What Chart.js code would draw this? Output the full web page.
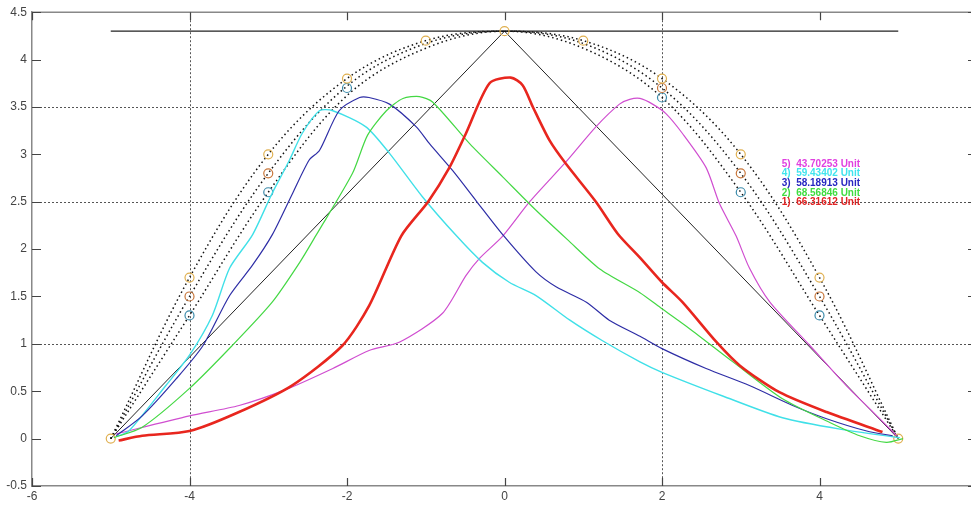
<!DOCTYPE html>
<html>
<head>
<meta charset="utf-8">
<script src="https://cdn.jsdelivr.net/npm/chart.js@4.4.0/dist/chart.umd.min.js"></script>
<style>
html, body { margin: 0; padding: 0; background: #fff; overflow: hidden; }
#wrap { width: 985px; height: 506px; }
</style>
</head>
<body>
<div id="wrap"><canvas id="chart"></canvas></div>
<script>
// axis ticks and the few dotted grid lines
const xTicks = [-6, -4, -2, 0, 2, 4, 6];
const yTicks = [-0.5, 0, 0.5, 1, 1.5, 2, 2.5, 3, 3.5, 4, 4.5];
const xGridLines = [-4, 2];
const yGridLines = [1, 2.5, 3.5];

// reference shapes
const topLineX = [-5, 5];
const topLineY = [4.3, 4.3];
const triangleX = [-5, 0, 5];
const triangleY = [0, 4.3, 0];

const arcX = [-5, -4, -3, -2, -1, 0, 1, 2, 3, 4, 5];
const arcOuterY = [0, 1.7, 3.0, 3.8, 4.2, 4.3, 4.2, 3.8, 3.0, 1.7, 0];
const arcMiddleY = [0, 1.5, 2.8, 3.72, 4.17, 4.3, 4.17, 3.7, 2.8, 1.5, 0];
const arcInnerY = [0, 1.3, 2.6, 3.62, 4.12, 4.3, 4.12, 3.6, 2.6, 1.3, 0];

const orangeMarkX = [-5, -4, -3, -2, -1, 0, 1, 2, 3, 4, 5];
const orangeMarkY = [0, 1.7, 3.0, 3.8, 4.2, 4.3, 4.2, 3.8, 3.0, 1.7, 0];
const brownMarkX = [-4, -3, 2, 3, 4];
const brownMarkY = [1.5, 2.8, 3.7, 2.8, 1.5];
const blueMarkX = [-4, -3, -2, 2, 3, 4];
const blueMarkY = [1.3, 2.6, 3.7, 3.6, 2.6, 1.3];

// measured curves
const redX = [-4.9, -4.6, -4.0, -3.4, -2.7, -2.06, -1.72, -1.31, -0.97, -0.70, -0.49, -0.19, 0.08, 0.23, 0.36, 0.57, 0.78, 1.16, 1.44, 1.72, 2.0, 2.26, 2.69, 2.99, 3.49, 4.09, 4.8];
const redY = [-0.02, 0.03, 0.08, 0.27, 0.56, 0.98, 1.40, 2.14, 2.50, 2.86, 3.22, 3.75, 3.81, 3.73, 3.50, 3.15, 2.90, 2.50, 2.16, 1.91, 1.65, 1.44, 1.02, 0.77, 0.49, 0.28, 0.07];

const greenX = [-4.96, -4.6, -4.0, -3.46, -2.95, -2.6, -2.39, -1.93, -1.74, -1.5, -1.29, -1.08, -0.91, -0.44, -0.02, 0.40, 0.80, 1.21, 1.72, 2.0, 2.35, 2.90, 3.53, 4.13, 4.51, 4.85, 5.06];
const greenY = [0.01, 0.12, 0.53, 0.98, 1.44, 1.86, 2.15, 2.80, 3.20, 3.46, 3.59, 3.61, 3.55, 3.11, 2.76, 2.41, 2.10, 1.79, 1.54, 1.37, 1.16, 0.81, 0.42, 0.17, 0.03, -0.04, 0.0];

const blueX = [-4.93, -4.6, -4.17, -3.83, -3.49, -3.2, -2.95, -2.69, -2.48, -2.35, -2.10, -1.84, -1.72, -1.46, -1.12, -0.95, -0.66, -0.36, -0.02, 0.40, 0.66, 1.04, 1.33, 1.72, 2.0, 2.56, 3.11, 3.66, 4.09, 4.60, 4.93];
const blueY = [0.03, 0.24, 0.63, 0.98, 1.51, 1.83, 2.15, 2.59, 2.94, 3.04, 3.46, 3.60, 3.60, 3.53, 3.29, 3.11, 2.83, 2.51, 2.15, 1.76, 1.60, 1.44, 1.25, 1.08, 0.95, 0.74, 0.56, 0.35, 0.21, 0.08, 0.03];

const cyanX = [-4.93, -4.77, -4.30, -4.0, -3.71, -3.49, -3.2, -2.95, -2.73, -2.57, -2.35, -2.18, -1.76, -1.46, -1.04, -0.61, -0.28, 0.06, 0.40, 0.83, 1.25, 1.72, 2.0, 2.77, 3.53, 4.26, 5.02];
const cyanY = [0.02, 0.08, 0.56, 0.88, 1.30, 1.80, 2.15, 2.59, 2.94, 3.22, 3.46, 3.46, 3.29, 3.01, 2.55, 2.14, 1.86, 1.65, 1.51, 1.25, 1.03, 0.81, 0.70, 0.45, 0.22, 0.10, 0.01];

const magentaX = [-4.93, -4.0, -3.37, -2.77, -2.18, -1.72, -1.33, -0.79, -0.49, -0.32, -0.02, 0.32, 0.78, 1.16, 1.46, 1.59, 1.72, 1.88, 2.05, 2.26, 2.56, 2.73, 2.94, 3.11, 3.37, 3.88, 4.34, 4.68, 4.98];
const magentaY = [0.05, 0.24, 0.35, 0.52, 0.74, 0.93, 1.02, 1.32, 1.72, 1.90, 2.14, 2.50, 2.92, 3.29, 3.53, 3.58, 3.59, 3.53, 3.43, 3.22, 2.86, 2.48, 2.14, 1.80, 1.44, 0.98, 0.56, 0.28, 0.03];

// text block on the right
const noteLabels = ['5)  43.70253 Unit', '4)  59.43402 Unit', '3)  58.18913 Unit', '2)  68.56846 Unit', '1)  66.31612 Unit'];
const noteColors = ['#e040e0', '#40e4ee', '#2626c0', '#40dd40', '#e02424'];
const noteX = 3.52;
const noteY = [2.90, 2.80, 2.69, 2.59, 2.49];

function pts(xs, ys) {
    return xs.map((x, i) => ({ x: x, y: ys[i] }));
}

function curve(label, xs, ys, color, width, tension) {
    return {
        label: label,
        data: pts(xs, ys),
        showLine: true,
        borderColor: color,
        borderWidth: width,
        pointRadius: 0,
        fill: false,
        tension: tension
    };
}

function dotted(label, ys) {
    const ds = curve(label, arcX, ys, '#111', 1.5, 0.35);
    ds.borderDash = [1.5, 3];
    return ds;
}

function marks(label, xs, ys, color) {
    return {
        label: label,
        data: pts(xs, ys),
        showLine: false,
        pointStyle: 'circle',
        pointRadius: 4.5,
        borderColor: color,
        backgroundColor: 'rgba(0,0,0,0)',
        pointBorderWidth: 1.2
    };
}

const framePlugin = {
    id: 'frame',
    beforeDatasetsDraw(chart) {
        const ctx = chart.ctx;
        const a = chart.chartArea;
        const x = chart.scales.x;
        const y = chart.scales.y;
        ctx.save();
        ctx.strokeStyle = '#555';
        ctx.lineWidth = 1;
        ctx.setLineDash([2, 2]);
        xGridLines.forEach(v => {
            const px = Math.round(x.getPixelForValue(v)) + 0.5;
            ctx.beginPath();
            ctx.moveTo(px, a.top);
            ctx.lineTo(px, a.bottom);
            ctx.stroke();
        });
        yGridLines.forEach(v => {
            const py = Math.round(y.getPixelForValue(v)) + 0.5;
            ctx.beginPath();
            ctx.moveTo(a.left, py);
            ctx.lineTo(a.right, py);
            ctx.stroke();
        });
        ctx.restore();
    },
    afterDatasetsDraw(chart) {
        const ctx = chart.ctx;
        const a = chart.chartArea;
        const x = chart.scales.x;
        const y = chart.scales.y;
        ctx.save();
        ctx.strokeStyle = '#888';
        ctx.lineWidth = 1.5;
        ctx.beginPath();
        ctx.moveTo(a.left, a.top);
        ctx.lineTo(a.right, a.top);
        ctx.moveTo(a.right, a.top);
        ctx.lineTo(a.right, a.bottom);
        ctx.stroke();

        // ticks point inward
        ctx.lineWidth = 1.2;
        ctx.strokeStyle = '#444';
        ctx.beginPath();
        xTicks.forEach(v => {
            const px = Math.round(x.getPixelForValue(v)) + 0.5;
            ctx.moveTo(px, a.bottom);
            ctx.lineTo(px, a.bottom - 8);
            ctx.moveTo(px, a.top);
            ctx.lineTo(px, a.top + 8);
        });
        yTicks.forEach(v => {
            const py = Math.round(y.getPixelForValue(v)) + 0.5;
            ctx.moveTo(a.left, py);
            ctx.lineTo(a.left + 9, py);
            ctx.moveTo(a.right, py);
            ctx.lineTo(a.right - 9, py);
        });
        ctx.stroke();

        ctx.font = 'bold 10px "Liberation Sans", Arial, sans-serif';
        ctx.textAlign = 'left';
        ctx.textBaseline = 'middle';
        noteLabels.forEach((t, i) => {
            ctx.fillStyle = noteColors[i];
            ctx.fillText(t, x.getPixelForValue(noteX), y.getPixelForValue(noteY[i]));
        });
        ctx.restore();
    }
};

document.addEventListener('DOMContentLoaded', function() {
    const ctx = document.getElementById('chart').getContext('2d');
    new Chart(ctx, {
        type: 'scatter',
        data: {
            datasets: [
                curve('1', redX, redY, '#e8261e', 2.6, 0.25),
                curve('2', greenX, greenY, '#44d844', 1.2, 0.25),
                curve('3', blueX, blueY, '#2e2ea6', 1.2, 0.25),
                curve('4', cyanX, cyanY, '#40e0e8', 1.4, 0.25),
                curve('5', magentaX, magentaY, '#d04ed0', 1.2, 0.25),
                marks('o1', orangeMarkX, orangeMarkY, '#e0b050'),
                marks('o2', brownMarkX, brownMarkY, '#c8763a'),
                marks('o3', blueMarkX, blueMarkY, '#3a8aaa'),
                dotted('d1', arcOuterY),
                dotted('d2', arcMiddleY),
                dotted('d3', arcInnerY),
                curve('tri', triangleX, triangleY, '#222', 1, 0),
                curve('top', topLineX, topLineY, '#222', 1.2, 0)
            ]
        },
        options: {
            responsive: true,
            maintainAspectRatio: false,
            animation: false,
            layout: { padding: { top: 12, right: 8, left: 0, bottom: 0 } },
            plugins: {
                legend: { display: false },
                tooltip: { enabled: false }
            },
            scales: {
                x: {
                    type: 'linear',
                    min: -6,
                    max: 6,
                    afterFit: function(scale) { scale.height = 20; },
                    afterBuildTicks: function(scale) { scale.ticks = xTicks.map(v => ({ value: v })); },
                    ticks: {
                        color: '#444',
                        padding: 3,
                        maxRotation: 0,
                        callback: v => String(v),
                        font: { family: '"Liberation Sans", Arial, sans-serif', size: 12 }
                    },
                    grid: { drawOnChartArea: false, drawTicks: false },
                    border: { color: '#888', width: 1.5 }
                },
                y: {
                    min: -0.5,
                    max: 4.5,
                    afterFit: function(scale) { scale.width = 32; },
                    afterBuildTicks: function(scale) { scale.ticks = yTicks.map(v => ({ value: v })); },
                    ticks: {
                        color: '#444',
                        padding: 5,
                        callback: v => String(v),
                        font: { family: '"Liberation Sans", Arial, sans-serif', size: 12 }
                    },
                    grid: { drawOnChartArea: false, drawTicks: false },
                    border: { color: '#888', width: 1.5 }
                }
            }
        },
        plugins: [framePlugin]
    });
});
</script>
</body>
</html>
